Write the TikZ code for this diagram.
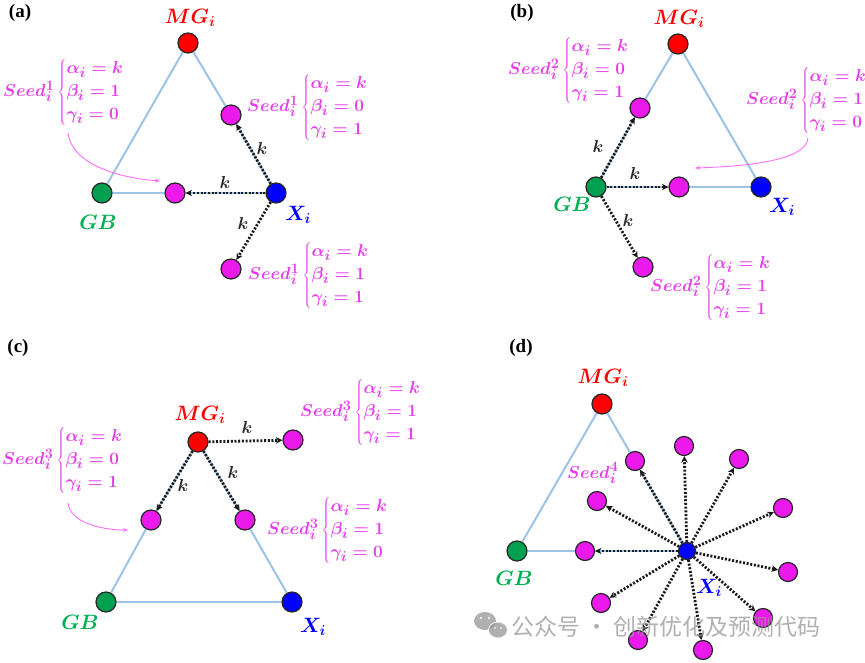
\documentclass[tikz,border=0pt]{standalone}
\usepackage{fontspec}
\setmainfont{Liberation Serif}
\newfontfamily\cjkfont{Noto Sans CJK SC}
\usetikzlibrary{arrows.meta}
\definecolor{mgred}{RGB}{255,0,0}
\definecolor{gbgreen}{RGB}{0,160,80}
\definecolor{gbtext}{RGB}{0,176,80}
\definecolor{xblue}{RGB}{0,0,255}
\definecolor{seedmag}{RGB}{235,25,235}
\definecolor{seedtext}{RGB}{230,60,235}
\definecolor{edgeblue}{RGB}{157,195,230}
\definecolor{curvemag}{RGB}{255,110,255}
\definecolor{wmgray}{RGB}{150,150,150}
\newcommand{\seedlab}[3]{$Seed_i^{#1}\left\{\begin{array}{@{}l@{}}\alpha_i = k\\ \beta_i = #2\\ \gamma_i = #3\end{array}\right.$}
\tikzset{
  basenode/.style={circle, draw=black!85, line width=1.2pt, minimum size=20pt, inner sep=0pt},
  mgnode/.style={basenode, fill=mgred},
  gbnode/.style={basenode, fill=gbgreen},
  xnode/.style={basenode, fill=xblue},
  seednode/.style={basenode, fill=seedmag},
  smallseed/.style={seednode, minimum size=19pt},
  smallx/.style={xnode, minimum size=17pt},
  triedge/.style={draw=edgeblue, line width=2pt},
  darrow/.style={draw=black!90, line width=2.8pt, dash pattern=on 2pt off 1.7pt, -{Stealth[length=6.5pt,width=6.5pt]}},
  curvearrow/.style={draw=curvemag, line width=0.9pt, -{Stealth[length=5pt,width=4pt]}},
  panellab/.style={font=\fontsize{19}{22}\selectfont\bfseries, inner sep=0pt},
  mglab/.style={text=mgred, font=\fontsize{21}{25}\selectfont\boldmath, inner sep=0pt},
  gblab/.style={text=gbtext, font=\fontsize{21}{25}\selectfont\boldmath, inner sep=0pt},
  xlab/.style={text=xblue, font=\fontsize{21}{25}\selectfont\boldmath, inner sep=0pt},
  klab/.style={text=black!85, font=\fontsize{17}{20}\selectfont\boldmath, inner sep=0pt},
  seedlabel/.style={text=seedtext, font=\fontsize{19}{23}\selectfont\boldmath, inner sep=0pt, anchor=west},
}
\begin{document}
\begin{tikzpicture}[x=1pt,y=-1pt]
\useasboundingbox (0,0) rectangle (865,662);
\fill[white] (0,0) rectangle (865,662);

% ---------------- (a)
\node[panellab] (pa) at (20,13) {(a)};
\node[mgnode] (aMG) at (188,43) {};
\node[gbnode] (aGB) at (102,193) {};
\node[xnode] (aX) at (276,193) {};
\node[seednode] (aS1) at (231,115) {};
\node[seednode] (aS2) at (175,193) {};
\node[seednode] (aS3) at (231,269) {};
\draw[triedge] (aMG) -- (aGB);
\draw[triedge] (aMG) -- (aS1);
\draw[triedge] (aS1) -- (aX);
\draw[triedge] (aGB) -- (aS2);
\draw[triedge] (aS2) -- (aX);
\draw[darrow] (aX) -- (aS1);
\draw[darrow] (aX) -- (aS2);
\draw[darrow] (aX) -- (aS3);
\node[mglab] (aMGl) at (190,18) {$MG_i$};
\node[gblab] (aGBl) at (98,222) {$GB$};
\node[xlab] (aXl) at (298,215) {$X_i$};
\node[klab] (ak1) at (262,148) {$k$};
\node[klab] (ak2) at (225,182) {$k$};
\node[klab] (ak3) at (243,223) {$k$};
\node[seedlabel] (aL1) at (3,92) {\seedlab{1}{1}{0}};
\node[seedlabel] (aL2) at (247,107) {\seedlab{1}{0}{1}};
\node[seedlabel] (aL3) at (248,275) {\seedlab{1}{1}{1}};
\coordinate (aC0) at (68,133);
\coordinate (aC1) at (160,181);
\draw[curvearrow] (aC0) .. controls (72,165) and (120,178) .. (aC1);

% ---------------- (b)
\node[panellab] (pb) at (522,13) {(b)};
\node[mgnode] (bMG) at (678,44) {};
\node[gbnode] (bGB) at (596,187) {};
\node[xnode] (bX) at (761,187) {};
\node[seednode] (bS1) at (640,108) {};
\node[seednode] (bS2) at (679,187) {};
\node[seednode] (bS3) at (643,267) {};
\draw[triedge] (bMG) -- (bX);
\draw[triedge] (bMG) -- (bS1);
\draw[triedge] (bS1) -- (bGB);
\draw[triedge] (bS2) -- (bX);
\draw[triedge] (bGB) -- (bS2);
\draw[darrow] (bGB) -- (bS1);
\draw[darrow] (bGB) -- (bS2);
\draw[darrow] (bGB) -- (bS3);
\node[mglab] (bMGl) at (679,19) {$MG_i$};
\node[gblab] (bGBl) at (572,204) {$GB$};
\node[xlab] (bXl) at (782,207) {$X_i$};
\node[klab] (bk1) at (598,146) {$k$};
\node[klab] (bk2) at (635,173) {$k$};
\node[klab] (bk3) at (628,220) {$k$};
\node[seedlabel] (bL1) at (508,70) {\seedlab{2}{0}{1}};
\node[seedlabel] (bL2) at (746,100) {\seedlab{2}{1}{0}};
\node[seedlabel] (bL3) at (650,287) {\seedlab{2}{1}{1}};
\coordinate (bC0) at (808,138);
\coordinate (bC1) at (695,168);
\draw[curvearrow] (bC0) .. controls (806,158) and (760,166) .. (bC1);

% ---------------- (c)
\node[panellab] (pc) at (18,348) {(c)};
\node[mgnode] (cMG) at (198,442) {};
\node[gbnode] (cGB) at (106,602) {};
\node[xnode] (cX) at (292,602) {};
\node[seednode] (cS1) at (151,520) {};
\node[seednode] (cS2) at (245,520) {};
\node[seednode] (cS3) at (293,440) {};
\draw[triedge] (cGB) -- (cX);
\draw[triedge] (cGB) -- (cS1);
\draw[triedge] (cS1) -- (cMG);
\draw[triedge] (cS2) -- (cX);
\draw[triedge] (cMG) -- (cS2);
\draw[darrow] (cMG) -- (cS1);
\draw[darrow] (cMG) -- (cS2);
\draw[darrow] (cMG) -- (cS3);
\node[mglab] (cMGl) at (200,415) {$MG_i$};
\node[gblab] (cGBl) at (80,622) {$GB$};
\node[xlab] (cXl) at (313,627) {$X_i$};
\node[klab] (ck1) at (247,427) {$k$};
\node[klab] (ck2) at (233,472) {$k$};
\node[klab] (ck3) at (183,485) {$k$};
\node[seedlabel] (cL1) at (300,412) {\seedlab{3}{1}{1}};
\node[seedlabel] (cL2) at (2,460) {\seedlab{3}{0}{1}};
\node[seedlabel] (cL3) at (267,530) {\seedlab{3}{1}{0}};
\coordinate (cC0) at (68,503);
\coordinate (cC1) at (128,530);
\draw[curvearrow] (cC0) .. controls (70,522) and (100,530) .. (cC1);

% ---------------- (d)
\node[panellab] (pd) at (521,348) {(d)};
\node[mgnode] (dMG) at (602,404) {};
\node[gbnode] (dGB) at (517,551) {};
\node[smallx] (dX) at (687,551) {};
\foreach \n/\p in {1/{(635,461)},2/{(684,446)},3/{(739,459)},4/{(783,508)},5/{(788,572)},6/{(763,618)},7/{(703,650)},8/{(638,640)},9/{(601,603)},10/{(585,551)},11/{(597,501)}}
  \node[smallseed] (dS\n) at \p {};
\draw[triedge] (dMG) -- (dGB);
\draw[triedge] (dMG) -- (dS1);
\draw[triedge] (dS1) -- (dX);
\draw[triedge] (dGB) -- (dS10);
\draw[triedge] (dS10) -- (dX);
\foreach \n in {1,...,11}
  \draw[darrow] (dX) -- (dS\n);
\node[mglab] (dMGl) at (603,378) {$MG_i$};
\node[gblab] (dGBl) at (514,578) {$GB$};
\node[xlab] (dXl) at (709,588) {$X_i$};
\node[seedlabel] (dL) at (567,473) {$Seed_i^4$};

% ---------------- watermark
\begin{scope}[opacity=0.75]
\fill[wmgray] (485,621) ellipse [x radius=11, y radius=9];
\fill[wmgray, draw=white, line width=1pt] (498,630) ellipse [x radius=9.5, y radius=8];
\fill[white] (481,618) circle [radius=1.4];
\fill[white] (489,618) circle [radius=1.4];
\fill[white] (495,628) circle [radius=1.2];
\fill[white] (501,628) circle [radius=1.2];
\node[text=wmgray, font=\cjkfont\fontsize{23}{27}\selectfont, anchor=west, inner sep=0pt] (wm) at (511,627) {公众号 · 创新优化及预测代码};
\end{scope}
\end{tikzpicture}
\end{document}
